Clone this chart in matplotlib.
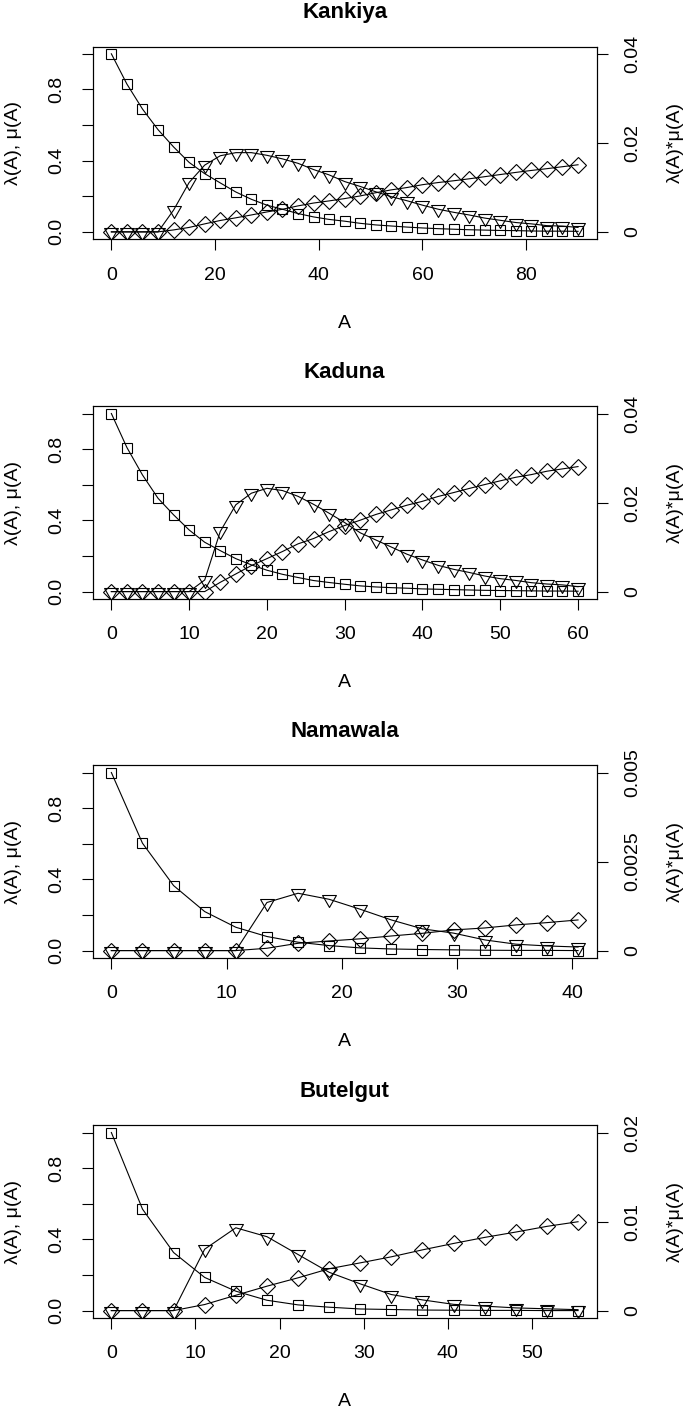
import matplotlib
matplotlib.use("Agg")
import matplotlib.pyplot as plt
from matplotlib.path import Path

plt.rcParams['font.family'] = ['Liberation Sans', 'DejaVu Sans']

# ── Données ─────────────────────────────────────────────────────────────────
# carrés = mu(A), losanges = lambda(A), triangles = lambda(A)*mu(A) (axe droit)

kankiya_A = list(range(0, 91, 3))
kankiya_mu = [1.0, 0.83, 0.69, 0.574, 0.477, 0.39, 0.327, 0.275, 0.224, 0.183,
              0.15, 0.127, 0.103, 0.084, 0.07, 0.06, 0.048, 0.039, 0.033, 0.027,
              0.022, 0.018, 0.015, 0.012, 0.01, 0.008, 0.007, 0.005, 0.004, 0.004,
              0.003]
kankiya_lam = [0, 0, 0, 0, 0.011, 0.025, 0.045, 0.064, 0.079, 0.095,
               0.112, 0.127, 0.146, 0.162, 0.174, 0.187, 0.202, 0.22, 0.236, 0.249,
               0.265, 0.277, 0.287, 0.298, 0.31, 0.322, 0.334, 0.345, 0.355, 0.366,
               0.377]
kankiya_prod = [0, 0, 0, 0, 0.0049, 0.0111, 0.0150, 0.0171, 0.0178, 0.0178,
                0.0172, 0.0164, 0.0154, 0.0140, 0.0128, 0.0113, 0.0102, 0.0090, 0.0079, 0.0070,
                0.0060, 0.0051, 0.0044, 0.0038, 0.0031, 0.0026, 0.0021, 0.0018, 0.0014, 0.0013,
                0.0010]

kaduna_A = list(range(0, 61, 2))
kaduna_mu = [1.0, 0.809, 0.655, 0.524, 0.431, 0.346, 0.277, 0.23, 0.185, 0.15,
             0.12, 0.097, 0.079, 0.062, 0.051, 0.041, 0.032, 0.026, 0.022, 0.019,
             0.015, 0.013, 0.011, 0.009, 0.007, 0.006, 0.005, 0.004, 0.003, 0.003,
             0.002]
kaduna_lam = [0, 0, 0, 0, 0, 0, 0, 0.052, 0.099, 0.146,
              0.185, 0.225, 0.268, 0.298, 0.337, 0.371, 0.401, 0.433, 0.459, 0.485,
              0.507, 0.534, 0.556, 0.579, 0.601, 0.622, 0.642, 0.657, 0.676, 0.689,
              0.702]
kaduna_prod = [0, 0, 0, 0, 0, 0, 0.0026, 0.0135, 0.0195, 0.0221,
               0.0232, 0.0227, 0.0214, 0.0196, 0.0176, 0.0155, 0.0132, 0.0116, 0.0100, 0.0084,
               0.0071, 0.0059, 0.0050, 0.0043, 0.0035, 0.0029, 0.0025, 0.0020, 0.0017, 0.0015,
               0.0011]

namawala_A = [0, 2.7, 5.4, 8.1, 10.8, 13.5, 16.2, 18.9, 21.6, 24.3, 27.0, 29.7,
              32.4, 35.1, 37.8, 40.5]
namawala_mu = [1.0, 0.603, 0.365, 0.219, 0.131, 0.079, 0.047, 0.028, 0.015, 0.009,
               0.006, 0.004, 0.002, 0.001, 0.001, 0.0]
namawala_lam = [0, 0, 0, 0, 0, 0.013, 0.041, 0.054, 0.066, 0.082,
                0.097, 0.116, 0.127, 0.144, 0.157, 0.172]
namawala_prod = [0, 0, 0, 0, 0, 0.00135, 0.00161, 0.00144, 0.00116, 0.00086,
                 0.00061, 0.00049, 0.00030, 0.00018, 0.00013, 0.00010]

butelgut_A = [0, 3.7, 7.4, 11.1, 14.8, 18.5, 22.2, 25.9, 29.6, 33.3, 37.0, 40.7,
              44.4, 48.1, 51.8, 55.5]
butelgut_mu = [1.0, 0.57, 0.326, 0.186, 0.109, 0.058, 0.032, 0.019, 0.009, 0.006,
               0.003, 0.002, 0.001, 0.001, 0.0, 0.0]
butelgut_lam = [0, 0, 0, 0.034, 0.086, 0.137, 0.184, 0.235, 0.268, 0.302,
                0.341, 0.377, 0.411, 0.441, 0.473, 0.499]
butelgut_prod = [0, 0, 0, 0.0069, 0.0093, 0.0083, 0.0063, 0.0043, 0.0030, 0.0018,
                 0.0012, 0.0007, 0.0005, 0.0003, 0.0002, 0.0001]

# ── Mise en page ────────────────────────────────────────────────────────────
W, H = 685, 1409
fig = plt.figure(figsize=(W / 100, H / 100), dpi=100)

box_h = 192.3
bottoms_px = [239.0, 598.7, 957.7, 1317.7]

# triangle pointe en bas, centré sur son centre de gravité (comme pch=6 de R)
tri = Path([(0, -1), (-0.866, 0.5), (0.866, 0.5), (0, -1)], closed=True)

left_ticks = [0.0, 0.2, 0.4, 0.6, 0.8, 1.0]
left_labels = ["0.0", "", "0.4", "", "0.8", ""]

lw = 0.8
fs = 14


def panel(i, title, A, mu, lam, prod, xticks, rticks, rlabels):
    ax = fig.add_axes([92.7 / W, 1 - bottoms_px[i] / H, 504 / W, box_h / H])
    ax2 = ax.twinx()

    xmax = max(A)
    ax.set_xlim(-0.04 * xmax, 1.04 * xmax)
    ax.set_ylim(-0.04, 1.04)
    rmax = rticks[-1]
    ax2.set_ylim(-0.04 * rmax, 1.04 * rmax)

    ax.plot(A, mu, color="black", lw=lw, marker="s", ms=7,
            mfc="none", mec="black", mew=lw)
    ax.plot(A, lam, color="black", lw=lw, marker="D", ms=8.2,
            mfc="none", mec="black", mew=lw)
    ax2.plot(A, prod, color="black", lw=lw, marker=tri, ms=11.5,
             mfc="none", mec="black", mew=lw)

    ax.set_xticks(xticks)
    ax.set_xticklabels([str(t) for t in xticks])
    ax.set_yticks(left_ticks)
    ax.set_yticklabels(left_labels, rotation=90, va="center")
    ax2.set_yticks(rticks)
    ax2.set_yticklabels(rlabels, rotation=90, va="center")

    for a in (ax, ax2):
        a.tick_params(direction="out", length=7.9, width=lw, pad=12,
                      labelsize=fs, color="black")
        for s in a.spines.values():
            s.set_linewidth(lw)

    ax.set_xlabel("A", fontsize=fs, va="center")
    ax.xaxis.set_label_coords(0.5, -84 / box_h)
    ax.set_ylabel("λ(A), μ(A)", fontsize=fs, va="center")
    ax.yaxis.set_label_coords(-0.1575, 0.5)
    ax2.set_ylabel("λ(A)*μ(A)", fontsize=fs, va="center", rotation=90)
    ax2.yaxis.set_label_coords(1.1553, 0.5)

    ax.text(0.5, 1 + 34 / box_h, title, transform=ax.transAxes,
            ha="center", va="center", fontsize=16, fontweight="bold")


panel(0, "Kankiya", kankiya_A, kankiya_mu, kankiya_lam, kankiya_prod,
      [0, 20, 40, 60, 80], [0, 0.02, 0.04], ["0", "0.02", "0.04"])
panel(1, "Kaduna", kaduna_A, kaduna_mu, kaduna_lam, kaduna_prod,
      [0, 10, 20, 30, 40, 50, 60], [0, 0.02, 0.04], ["0", "0.02", "0.04"])
panel(2, "Namawala", namawala_A, namawala_mu, namawala_lam, namawala_prod,
      [0, 10, 20, 30, 40], [0, 0.0025, 0.005], ["0", "0.0025", "0.005"])
panel(3, "Butelgut", butelgut_A, butelgut_mu, butelgut_lam, butelgut_prod,
      [0, 10, 20, 30, 40, 50], [0, 0.01, 0.02], ["0", "0.01", "0.02"])

fig.savefig("out.png", dpi=100)
